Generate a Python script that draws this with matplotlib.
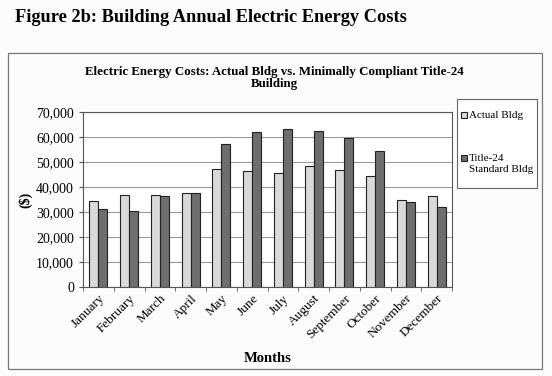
import matplotlib
matplotlib.use("Agg")
import matplotlib.pyplot as plt
import numpy as np
from matplotlib.patches import Rectangle

months = ["January", "February", "March", "April", "May", "June", "July",
          "August", "September", "October", "November", "December"]
actual = [34300, 36900, 36900, 37700, 47300, 46300, 45600, 48500, 46700, 44300, 34900, 36500]
title24 = [31300, 30500, 36500, 37700, 57300, 61900, 63100, 62400, 59500, 54500, 34100, 32100]
series_names = ["Actual Bldg", "Title-24\nStandard Bldg"]
series_colors = ['#d9d9d9', '#6e6e6e']
yticks = [0, 10000, 20000, 30000, 40000, 50000, 60000, 70000]

plt.rcParams['font.family'] = ['Liberation Serif', 'DejaVu Serif']

W, H = 552, 376
fig = plt.figure(figsize=(W/100, H/100), dpi=100)
fig.patch.set_facecolor('#fcfcfc')

def fx(px): return px / W
def fy(py): return 1 - py / H

# outer chart box
fig.patches.append(Rectangle((fx(8), fy(369)), fx(542) - fx(8), fy(53) - fy(369),
                             transform=fig.transFigure, fill=False, edgecolor='#777777', lw=0.9))

fig.text(fx(15), fy(17), "Figure 2b: Building Annual Electric Energy Costs",
         fontsize=13.2, fontweight='bold', ha='left', va='center')
fig.text(fx(274), fy(72), "Electric Energy Costs: Actual Bldg vs. Minimally Compliant Title-24",
         fontsize=9.3, fontweight='bold', ha='center', va='center')
fig.text(fx(274), fy(84), "Building", fontsize=9.3, fontweight='bold', ha='center', va='center')

ax = fig.add_axes([fx(83), fy(287), fx(452) - fx(83), fy(112) - fy(287)])
ax.set_facecolor('white')
x = np.arange(len(months))
bw = 0.29
bars = []
for i, (vals, col) in enumerate(zip([actual, title24], series_colors)):
    off = (i - 0.5) * bw
    bars.append(ax.bar(x + off, vals, bw, color=col, edgecolor='#222222', lw=0.8,
                       label=series_names[i], zorder=3))
ax.set_xlim(-0.5, len(months) - 0.5)
ax.set_ylim(0, 70000)
ax.set_yticks(yticks)
ax.set_yticklabels([f"{v:,}" for v in yticks], fontsize=10)
ax.set_xticks(x)
ax.set_xticklabels(months, rotation=45, ha='right', rotation_mode='anchor', fontsize=9.5)
ax.set_xticks(np.arange(-0.5, len(months)), minor=True)
ax.tick_params(axis='x', which='major', length=0, pad=4)
ax.tick_params(axis='x', which='minor', length=3, direction='out', color='#555555')
ax.tick_params(axis='y', length=3, direction='out', color='#555555')
ax.yaxis.grid(True, color='#999999', lw=0.8, zorder=0)
for s in ax.spines.values():
    s.set_color('#555555')
    s.set_linewidth(0.8)
ax.set_xlabel("Months", fontsize=10.5, fontweight='bold', labelpad=8)
ax.set_ylabel("($)", fontsize=10, fontweight='bold', labelpad=3)

# legend box (drawn manually to match the original layout)
fig.patches.append(Rectangle((fx(457), fy(188)), fx(537) - fx(457), fy(99) - fy(188),
                             transform=fig.transFigure, facecolor='white',
                             edgecolor='#666666', lw=0.8))
entry_y = [115, 158]
for name, col, yy in zip(series_names, series_colors, entry_y):
    fig.patches.append(Rectangle((fx(461), fy(yy + 3)), fx(467) - fx(461), fy(yy - 3) - fy(yy + 3),
                                 transform=fig.transFigure, facecolor=col,
                                 edgecolor='#222222', lw=0.8))
    fig.text(fx(469), fy(yy - 4), name, fontsize=8, ha='left', va='top', linespacing=1.3)

fig.savefig("out.png", dpi=100, facecolor=fig.get_facecolor())
